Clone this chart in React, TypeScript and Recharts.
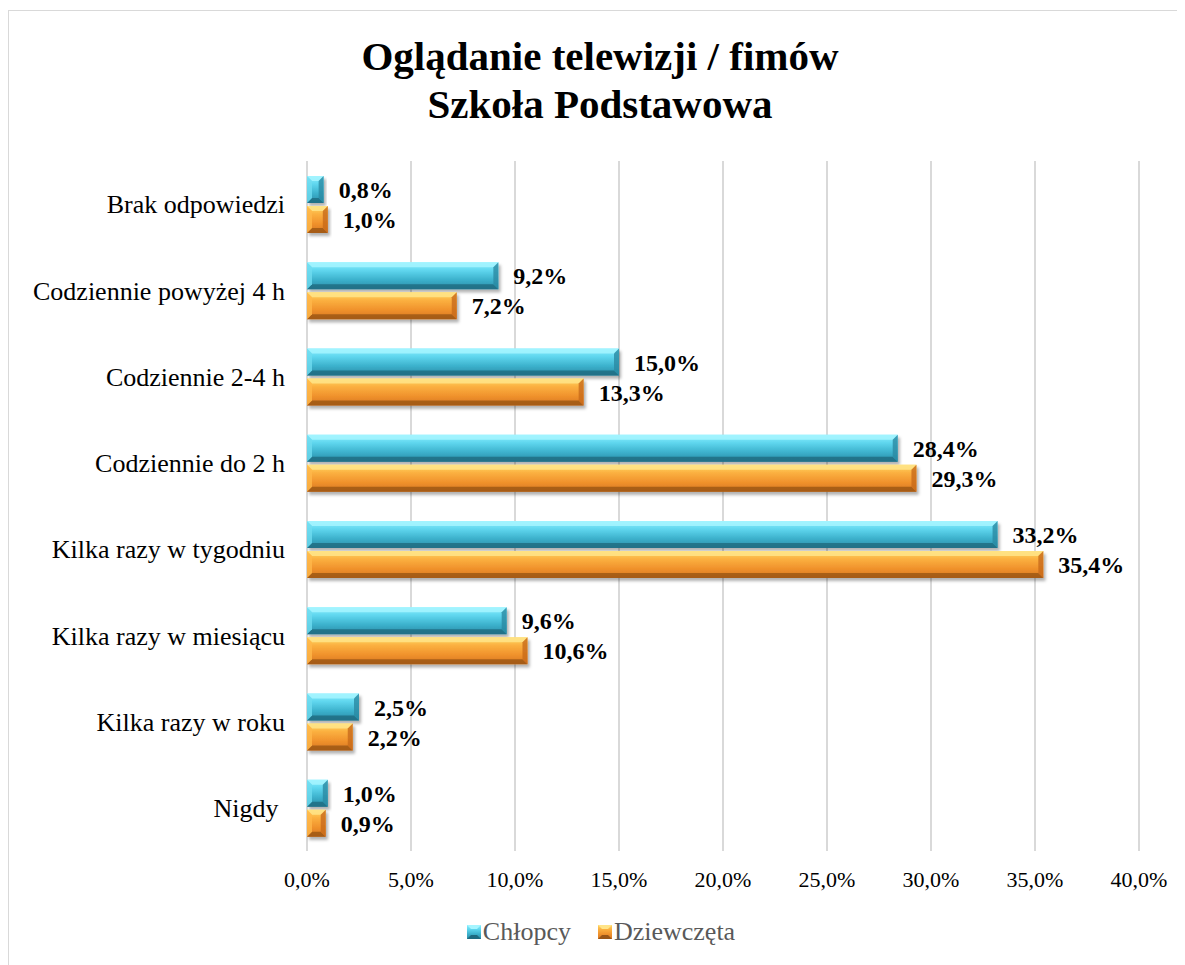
import { BarChart, Bar, XAxis, YAxis, CartesianGrid, LabelList, Legend } from 'recharts';

const categories = [
  'Brak odpowiedzi',
  'Codziennie powyżej 4 h',
  'Codziennie 2-4 h',
  'Codziennie do 2 h',
  'Kilka razy w tygodniu',
  'Kilka razy w miesiącu',
  'Kilka razy w roku',
  'Nigdy\u00a0',
];
const chlopcy = [0.8, 9.2, 15.0, 28.4, 33.2, 9.6, 2.5, 1.0];
const dziewczeta = [1.0, 7.2, 13.3, 29.3, 35.4, 10.6, 2.2, 0.9];
const xTicks = [0, 5, 10, 15, 20, 25, 30, 35, 40];

const data = categories.map((name, i) => ({ name, chlopcy: chlopcy[i], dziewczeta: dziewczeta[i] }));

const SERIF = '"Liberation Serif", "Times New Roman", serif';
const pct = (v: number) => v.toFixed(1).replace('.', ',') + '%';

const palette = {
  teal: { light: '#a6f5ff', dark: '#1e6a80', left: '#6fdcf0', right: '#2a8aa3', grad: 'gTeal' },
  orange: { light: '#ffe488', dark: '#9a5516', left: '#ffb84a', right: '#c86a1c', grad: 'gOrange' },
};

function BevelBar(props: any) {
  const { x, y, width, height, kind } = props;
  if (!width || width <= 0) return null;
  const c = palette[kind as 'teal' | 'orange'];
  const b = Math.min(5, width / 2, height / 3);
  const r = x + width;
  const btm = y + height;
  return (
    <g filter="url(#barShadow)">
      <rect x={x} y={y} width={width} height={height} fill={`url(#${c.grad})`} />
      <polygon points={`${x},${y} ${r},${y} ${r - b},${y + b} ${x + b},${y + b}`} fill={c.light} opacity={0.85} />
      <polygon points={`${x},${btm} ${r},${btm} ${r - b},${btm - b} ${x + b},${btm - b}`} fill={c.dark} opacity={0.8} />
      <polygon points={`${x},${y} ${x + b},${y + b} ${x + b},${btm - b} ${x},${btm}`} fill={c.left} opacity={0.8} />
      <polygon points={`${r},${y} ${r - b},${y + b} ${r - b},${btm - b} ${r},${btm}`} fill={c.right} opacity={0.8} />
    </g>
  );
}

function LegendIcon({ kind }: { kind: 'teal' | 'orange' }) {
  const c = palette[kind];
  return (
    <svg width={14} height={14} style={{ display: 'block' }}>
      <rect x={0} y={0} width={14} height={14} fill={`url(#${c.grad})`} />
      <polygon points="0,0 14,0 10,4 4,4" fill={c.light} />
      <polygon points="0,14 14,14 10,10 4,10" fill={c.dark} />
    </svg>
  );
}

function LegendContent() {
  const items: { label: string; kind: 'teal' | 'orange' }[] = [
    { label: 'Chłopcy', kind: 'teal' },
    { label: 'Dziewczęta', kind: 'orange' },
  ];
  return (
    <div style={{ display: 'flex', justifyContent: 'center', alignItems: 'center', gap: 27 }}>
      {items.map((it) => (
        <div key={it.label} style={{ display: 'flex', alignItems: 'center', gap: 2 }}>
          <LegendIcon kind={it.kind} />
          <span style={{ fontFamily: SERIF, fontSize: 26, color: '#595959', lineHeight: '30px' }}>{it.label}</span>
        </div>
      ))}
    </div>
  );
}

export default function App() {
  return (
    <div
      style={{
        position: 'relative',
        marginTop: 2,
        width: 1176,
        height: 955,
        overflow: 'hidden',
        borderLeft: '1px solid #d9d9d9',
        borderTop: '1px solid #d9d9d9',
        background: '#fff',
      }}
    >
      <div
        style={{
          position: 'absolute',
          left: 0,
          top: 21,
          width: 1182,
          textAlign: 'center',
          fontFamily: SERIF,
          fontWeight: 'bold',
          fontSize: 41,
          lineHeight: '48px',
          color: '#000',
          zIndex: 2,
        }}
      >
        Oglądanie telewizji / fimów
        <br />
        Szkoła Podstawowa
      </div>
      <BarChart
        width={1184}
        height={954}
        data={data}
        layout="vertical"
        margin={{ top: 150, right: 54, bottom: 74, left: 0 }}
        barGap={3}
      >
        <defs>
          <linearGradient id="gTeal" x1="0" y1="0" x2="0" y2="1">
            <stop offset="0%" stopColor="#8cf0ff" />
            <stop offset="30%" stopColor="#5fd6ee" />
            <stop offset="65%" stopColor="#3cb1cc" />
            <stop offset="100%" stopColor="#2a8ba6" />
          </linearGradient>
          <linearGradient id="gOrange" x1="0" y1="0" x2="0" y2="1">
            <stop offset="0%" stopColor="#ffd865" />
            <stop offset="30%" stopColor="#fbb040" />
            <stop offset="65%" stopColor="#f0922c" />
            <stop offset="100%" stopColor="#d67622" />
          </linearGradient>
          <filter id="barShadow" x="-10%" y="-30%" width="130%" height="180%">
            <feDropShadow dx="2" dy="3" stdDeviation="1.8" floodColor="#000" floodOpacity="0.3" />
          </filter>
        </defs>
        <CartesianGrid horizontal={false} stroke="#d9d9d9" strokeWidth={2} />
        <XAxis
          type="number"
          domain={[0, 40]}
          ticks={xTicks}
          tickFormatter={pct}
          axisLine={false}
          tickLine={false}
          tickSize={0}
          tickMargin={20}
          height={40}
          interval={0}
          tick={{ fill: '#000', fontSize: 22, fontFamily: SERIF }}
        />
        <YAxis
          type="category"
          dataKey="name"
          width={298}
          axisLine={false}
          tickLine={false}
          tickSize={0}
          tickMargin={22}
          interval={0}
          tick={{ fill: '#000', fontSize: 26, fontFamily: SERIF }}
        />
        <Legend
          verticalAlign="middle"
          align="center"
          layout="horizontal"
          content={() => <LegendContent />}
          wrapperStyle={{ top: 906, left: 0, width: 1184 }}
        />
        <Bar
          dataKey="chlopcy"
          name="Chłopcy"
          barSize={27}
          isAnimationActive={false}
          shape={(p: any) => <BevelBar {...p} kind="teal" />}
        >
          <LabelList
            dataKey="chlopcy"
            position="right"
            offset={15}
            formatter={(v: any) => pct(Number(v))}
            fill="#000"
            fontSize={24}
            fontWeight="bold"
            fontFamily={SERIF}
          />
        </Bar>
        <Bar
          dataKey="dziewczeta"
          name="Dziewczęta"
          barSize={27}
          isAnimationActive={false}
          shape={(p: any) => <BevelBar {...p} kind="orange" />}
        >
          <LabelList
            dataKey="dziewczeta"
            position="right"
            offset={15}
            formatter={(v: any) => pct(Number(v))}
            fill="#000"
            fontSize={24}
            fontWeight="bold"
            fontFamily={SERIF}
          />
        </Bar>
      </BarChart>
    </div>
  );
}
